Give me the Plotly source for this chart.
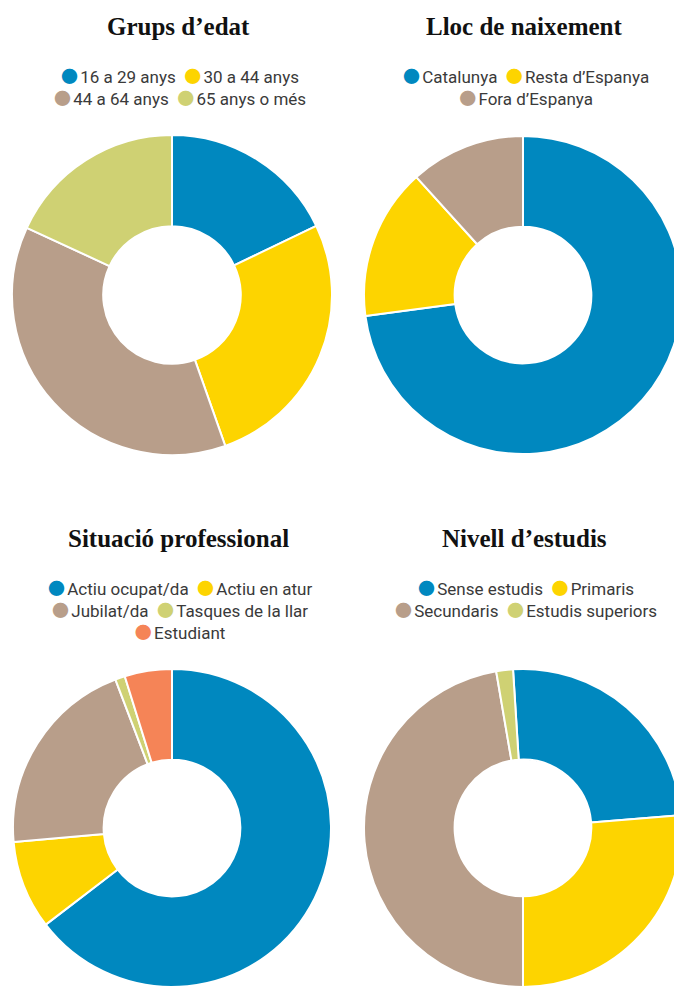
import plotly.graph_objects as go

# page body has an 8px margin, so the figure is drawn 8px in from the window edge
OFF = 8
W, H = 674, 979

# ---- data -------------------------------------------------------------
age_labels = ["16 a 29 anys", "30 a 44 anys", "44 a 64 anys", "65 anys o més"]
age_values = [17.9, 26.7, 37.3, 18.1]

birth_labels = ["Catalunya", "Resta d’Espanya", "Fora d’Espanya"]
birth_values = [72.9, 15.4, 11.7]

job_labels = ["Actiu ocupat/da", "Actiu en atur", "Jubilat/da",
              "Tasques de la llar", "Estudiant"]
job_values = [64.6, 9.0, 20.6, 1.0, 4.8]

edu_labels = ["Sense estudis", "Primaris", "Secundaris", "Estudis superiors"]
edu_values = [24.7, 26.3, 47.3, 1.7]

titles = ["Grups d’edat", "Lloc de naixement",
          "Situació professional", "Nivell d’estudis"]

# ---- style ------------------------------------------------------------
BLUE, YELLOW, TAUPE, GREEN, ORANGE = "#0088bf", "#fdd400", "#b89e8a", "#cfd173", "#f58457"
palette = [BLUE, YELLOW, TAUPE, GREEN, ORANGE]

# positions in window pixels
charts = [
    dict(labels=age_labels, values=age_values, rot=0,
         dom=(12, 332, 135, 455), cx=178, title_y=27,
         rows=[[0, 1], [2, 3]], leg_x=180, leg_y=86),
    dict(labels=birth_labels, values=birth_values, rot=0,
         dom=(364, 682, 135, 455), cx=524, title_y=27,
         rows=[[0, 1], [2]], leg_x=526, leg_y=86),
    dict(labels=job_labels, values=job_values, rot=0,
         dom=(12, 332, 669, 987), cx=178, title_y=538,
         rows=[[0, 1], [2, 3], [4]], leg_x=180, leg_y=609),
    dict(labels=edu_labels, values=edu_values, rot=-3.6,
         dom=(364, 682, 669, 987), cx=524, title_y=538,
         rows=[[0, 1], [2, 3]], leg_x=526, leg_y=598),
]


def px_x(x):
    return min(max((x - OFF) / W, 0), 1)


def px_y(y):
    return min(max(1 - (y - OFF) / H, 0), 1)


NB = "\u00a0"
GAP = "<span style='font-size:9px'>\u00a0</span>"
fig = go.Figure()
annotations = []

for ch, title in zip(charts, titles):
    x0, x1, y0, y1 = ch["dom"]
    n = len(ch["labels"])
    fig.add_trace(go.Pie(
        labels=ch["labels"], values=ch["values"],
        hole=0.43, sort=False, direction="clockwise", rotation=ch["rot"],
        marker=dict(colors=palette[:n], line=dict(color="white", width=2)),
        textinfo="none", showlegend=False,
        domain=dict(x=[px_x(x0), px_x(x1)], y=[px_y(y1), px_y(y0)]),
    ))
    annotations.append(dict(
        text="<b>" + title + "</b>", x=px_x(ch["cx"]), y=px_y(ch["title_y"]),
        xref="paper", yref="paper", xanchor="center", yanchor="middle",
        showarrow=False,
        font=dict(family="Liberation Serif", size=25, color="#111111"),
    ))
    lines = []
    for row in ch["rows"]:
        parts = []
        for i in row:
            parts.append(
                f"<span style='font-family:Noto Sans CJK SC;color:{palette[i]}'>●</span>"
                + GAP + ch["labels"][i]
            )
        lines.append((NB * 2).join(parts))
    annotations.append(dict(
        text="<br>".join(lines), x=px_x(ch["leg_x"]), y=px_y(ch["leg_y"]),
        xref="paper", yref="paper", xanchor="center", yanchor="middle",
        align="center", showarrow=False,
        font=dict(family="Roboto", size=17, color="#3a3a3a"),
    ))

fig.update_layout(
    width=W, height=H,
    margin=dict(l=0, r=0, t=0, b=0),
    paper_bgcolor="white", plot_bgcolor="white",
    annotations=annotations,
)

fig.write_html("out.html")
